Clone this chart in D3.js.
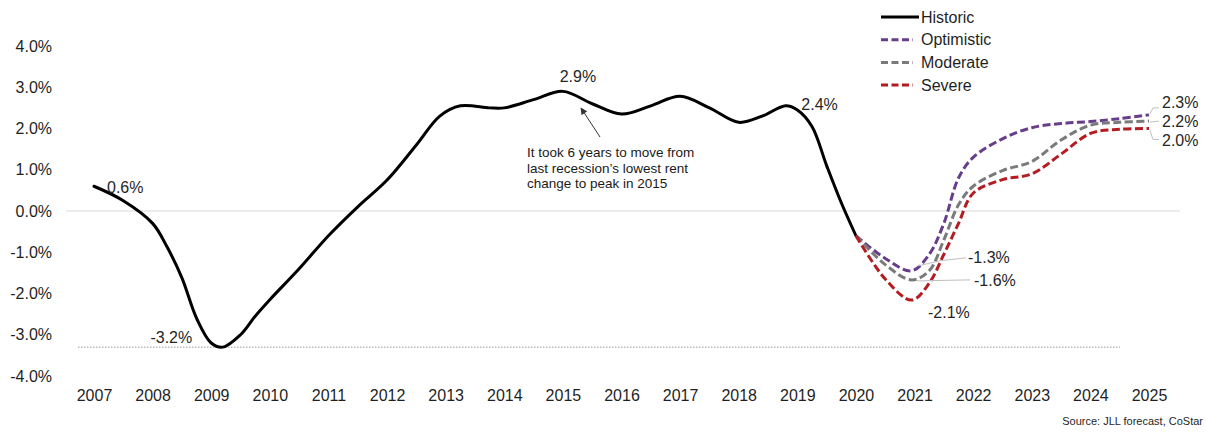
<!DOCTYPE html>
<html>
<head>
<meta charset="utf-8">
<script src="https://cdn.jsdelivr.net/npm/d3@7"></script>
<style>
  html, body { margin: 0; padding: 0; background: #fff; overflow: hidden; }
  svg { display: block; font-family: "Liberation Sans", Arial, sans-serif; }
</style>
</head>
<body>
<div id="chart"></div>
<script>
// year labels on the x axis
const years = [2007, 2008, 2009, 2010, 2011, 2012, 2013, 2014, 2015, 2016,
               2017, 2018, 2019, 2020, 2021, 2022, 2023, 2024, 2025];
const yTicks = [4, 3, 2, 1, 0, -1, -2, -3, -4];

// historic rent change (decimal year, %)
const historicT = [2007.0, 2007.5, 2008.0, 2008.25, 2008.5, 2008.75, 2009.0, 2009.2, 2009.5, 2009.75,
                   2010.0, 2010.5, 2011.0, 2011.5, 2012.0, 2012.5, 2012.9, 2013.25, 2013.75, 2014.0,
                   2014.5, 2015.0, 2015.5, 2016.0, 2016.5, 2017.0, 2017.5, 2018.0, 2018.4, 2018.8,
                   2019.0, 2019.25, 2019.5, 2019.75, 2020.0];
const historicV = [0.6, 0.25, -0.3, -0.88, -1.62, -2.6, -3.2, -3.3, -3.0, -2.55,
                   -2.15, -1.4, -0.6, 0.1, 0.75, 1.6, 2.3, 2.55, 2.5, 2.5,
                   2.7, 2.9, 2.6, 2.35, 2.55, 2.78, 2.5, 2.15, 2.3, 2.55,
                   2.45, 2.05, 1.1, 0.2, -0.6];

// forecast scenarios share the same time points
const forecastT = [2020.0, 2020.5, 2020.95, 2021.25, 2021.5, 2021.75, 2022.0, 2022.5, 2023.0, 2023.5, 2024.0, 2024.5, 2025.0];
const optimisticV = [-0.6, -1.15, -1.45, -1.05, -0.3, 0.8, 1.3, 1.75, 2.02, 2.12, 2.17, 2.24, 2.33];
const moderateV   = [-0.6, -1.3, -1.67, -1.45, -0.7, 0.15, 0.6, 0.98, 1.2, 1.72, 2.08, 2.15, 2.18];
const severeV     = [-0.6, -1.65, -2.16, -1.75, -1.05, -0.3, 0.43, 0.76, 0.9, 1.38, 1.88, 1.98, 2.0];

const seriesNames = ['Historic', 'Optimistic', 'Moderate', 'Severe'];
const seriesColors = ['#000000', '#673e8a', '#7a7a7a', '#b31c21'];

const width = 1206, height = 432;

const svg = d3.select('#chart').append('svg')
    .attr('width', width)
    .attr('height', height);

const xScale = d3.scaleLinear().domain([2007, 2025]).range([94, 1149]);
const yScale = d3.scaleLinear().domain([-4, 4]).range([376, 46]);

const locale = d3.formatLocale({decimal: '.', thousands: ',', grouping: [3], currency: ['$', ''], minus: '-'});
const pct = v => locale.format('.1f')(v) + '%';

const textColor = '#1f1f1f';

// zero line
svg.append('line')
    .attr('x1', 66).attr('x2', 1180)
    .attr('y1', yScale(0)).attr('y2', yScale(0))
    .attr('stroke', '#d9d9d9').attr('stroke-width', 1);

// dotted line at the 2009 trough
svg.append('line')
    .attr('x1', 78).attr('x2', 1120)
    .attr('y1', yScale(-3.3)).attr('y2', yScale(-3.3))
    .attr('stroke', '#9a9a9a').attr('stroke-width', 1)
    .attr('stroke-dasharray', '1.5,1.5');

// y axis labels, no domain or ticks
const yAxis = svg.append('g')
    .attr('transform', 'translate(52,0)')
    .call(d3.axisLeft(yScale).tickValues(yTicks).tickFormat(pct).tickSize(0).tickPadding(0));
yAxis.select('.domain').remove();
yAxis.selectAll('text')
    .attr('font-size', 16).attr('fill', textColor)
    .attr('font-family', '"Liberation Sans", Arial, sans-serif');

// x axis labels
const xAxis = svg.append('g')
    .attr('transform', 'translate(0,390)')
    .call(d3.axisBottom(xScale).tickValues(years).tickFormat(d3.format('d')).tickSize(0).tickPadding(0));
xAxis.select('.domain').remove();
xAxis.selectAll('text')
    .attr('font-size', 16).attr('fill', textColor)
    .attr('font-family', '"Liberation Sans", Arial, sans-serif');

const line = d3.line()
    .x(d => xScale(d[0]))
    .y(d => yScale(d[1]))
    .curve(d3.curveCatmullRom.alpha(0.5));

const historic = historicT.map((t, i) => [t, historicV[i]]);
const forecasts = [optimisticV, moderateV, severeV].map(vals => forecastT.map((t, i) => [t, vals[i]]));

svg.append('path')
    .datum(historic)
    .attr('d', line)
    .attr('fill', 'none')
    .attr('stroke', seriesColors[0])
    .attr('stroke-width', 3)
    .attr('stroke-linecap', 'round');

forecasts.forEach((data, i) => {
    svg.append('path')
        .datum(data)
        .attr('d', line)
        .attr('fill', 'none')
        .attr('stroke', seriesColors[i + 1])
        .attr('stroke-width', 3)
        .attr('stroke-dasharray', '8,3.5');
});

// legend
const legend = svg.append('g');
seriesNames.forEach((name, i) => {
    const cy = 17 + i * 22.7;
    legend.append('line')
        .attr('x1', 881).attr('x2', i === 0 ? 919 : 913)
        .attr('y1', cy).attr('y2', cy)
        .attr('stroke', seriesColors[i])
        .attr('stroke-width', 3)
        .attr('stroke-dasharray', i === 0 ? null : '7,3.5');
    legend.append('text')
        .attr('x', 921).attr('y', cy + 5.5)
        .attr('font-size', 16).attr('fill', textColor)
        .text(name);
});

// value labels
const label = (x, y, txt, anchor) => svg.append('text')
    .attr('x', x).attr('y', y)
    .attr('text-anchor', anchor || 'start')
    .attr('font-size', 16).attr('fill', '#262626')
    .text(txt);

label(xScale(2007) + 13, yScale(0.6) + 7, pct(0.6));
label(xScale(2009) - 19, yScale(-3.3) - 4, pct(-3.2), 'end');
label(xScale(2015) + 15, yScale(2.9) - 9, pct(2.9), 'middle');
label(xScale(2019) + 4, yScale(2.4) - 2, pct(2.4));
label(xScale(2025) + 13, yScale(2.33) - 7, pct(2.3));
label(xScale(2025) + 13, yScale(2.18) + 6, pct(2.2));
label(xScale(2025) + 13, yScale(2.0) + 17, pct(2.0));
label(968, yScale(-1.45) - 8, pct(-1.3));
label(974, yScale(-1.67) + 6, pct(-1.6));
label(928, yScale(-2.16) + 18, pct(-2.1));

// leader lines for labels
const leader = pts => svg.append('path')
    .attr('d', d3.line()(pts))
    .attr('fill', 'none')
    .attr('stroke', '#bfbfbf')
    .attr('stroke-width', 1);

const xe = xScale(2025);
leader([[xe + 1, yScale(2.33) - 1], [xe + 4, yScale(2.33) - 7], [xe + 10, yScale(2.33) - 7]]);
leader([[xe + 1, yScale(2.18) + 1], [xe + 10, yScale(2.18)]]);
leader([[xe + 1, yScale(2.0) + 2], [xe + 4, yScale(2.0) + 11], [xe + 10, yScale(2.0) + 11]]);
leader([[918, yScale(-1.45) - 5], [940, yScale(-1.45) - 10], [966, yScale(-1.45) - 13]]);
leader([[917, yScale(-1.67) + 1], [970, yScale(-1.67)]]);

// annotation arrow pointing at 2015 peak
svg.append('defs').append('marker')
    .attr('id', 'arrow')
    .attr('viewBox', '0 0 10 10')
    .attr('refX', 9).attr('refY', 5)
    .attr('markerWidth', 7).attr('markerHeight', 7)
    .attr('orient', 'auto')
    .append('path')
    .attr('d', 'M0,0L10,5L0,10Z')
    .attr('fill', '#333');

svg.append('line')
    .attr('x1', 600).attr('y1', 137)
    .attr('x2', 581).attr('y2', 108)
    .attr('stroke', '#333').attr('stroke-width', 1)
    .attr('marker-end', 'url(#arrow)');

const note = ['It took 6 years to move from', 'last recession\u2019s lowest rent', 'change to peak in 2015'];
svg.append('text')
    .attr('x', 527).attr('y', 157)
    .attr('font-size', 13.5).attr('fill', '#1a1a1a')
    .selectAll('tspan')
    .data(note)
    .join('tspan')
    .attr('x', 527)
    .attr('dy', (d, i) => i === 0 ? 0 : 15.5)
    .text(d => d);

// source, kept whole inside the right edge
svg.append('text')
    .attr('x', 1203).attr('y', 425)
    .attr('text-anchor', 'end')
    .attr('font-size', 11).attr('fill', textColor)
    .text('Source: JLL forecast, CoStar');
</script>
</body>
</html>
